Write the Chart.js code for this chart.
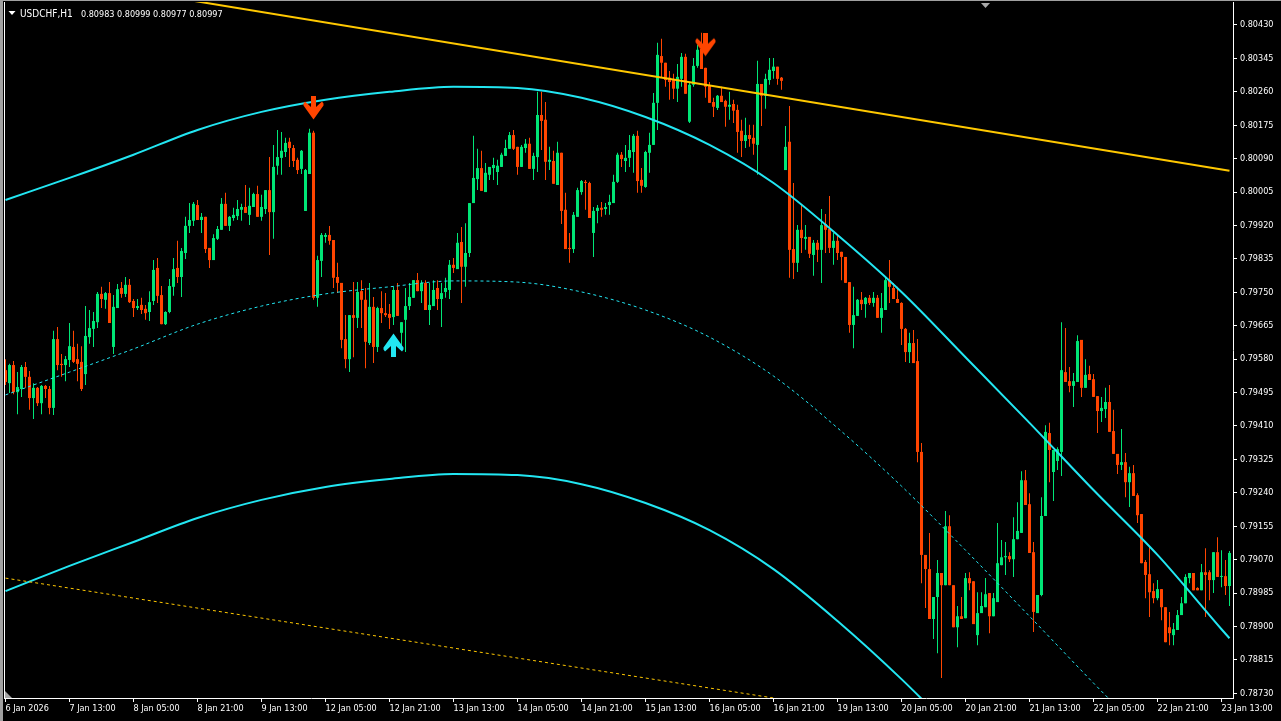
<!DOCTYPE html>
<html><head><meta charset="utf-8">
<script src="https://cdn.jsdelivr.net/npm/chart.js@4.4.1/dist/chart.umd.min.js"></script>
<style>html,body{margin:0;padding:0;background:#000;overflow:hidden}canvas{display:block}</style>
</head><body>
<canvas id="c" width="1281" height="721" style="width:1281px;height:721px"></canvas>
<script>
// ---------- DATA (USDCHF H1, bar index 0 = 6 Jan 2026 21:00) ----------
const titleSymbol = 'USDCHF,H1';
const titleOHLC = '0.80983 0.80999 0.80977 0.80997';

const opens = [
0.79552,0.79519,0.79565,0.79496,0.79504,0.79560,0.79535,0.79481,0.79507,0.79468,
0.79512,0.79504,0.79456,0.79631,0.79568,0.79565,0.79578,0.79611,0.79580,0.79573,
0.79542,0.79636,0.79657,0.79674,0.79746,0.79731,0.79748,0.79611,0.79710,0.79761,
0.79746,0.79769,0.79728,0.79710,0.79718,0.79708,0.79700,0.79728,0.79812,0.79743,
0.79669,0.79700,0.79764,0.79812,0.79789,0.79850,0.79919,0.79932,0.79972,0.79934,
0.79942,0.79863,0.79832,0.79886,0.79909,0.79975,0.79919,0.79939,0.79944,0.79960,
0.79967,0.79947,0.79967,0.80000,0.79942,0.79962,0.80010,0.79954,0.80072,0.80092,
0.80107,0.80133,0.80117,0.80087,0.80064,0.79957,0.80051,0.80156,0.79736,0.79830,
0.79891,0.79896,0.79883,0.79789,0.79774,0.79631,0.79580,0.79692,0.79685,0.79753,
0.79731,0.79621,0.79713,0.79611,0.79710,0.79697,0.79695,0.79687,0.79756,0.79647,
0.79680,0.79715,0.79736,0.79781,0.79753,0.79774,0.79705,0.79715,0.79761,0.79733,
0.79751,0.79756,0.79820,0.79809,0.79878,0.79815,0.79850,0.79977,0.80038,0.80066,
0.80005,0.80049,0.80066,0.80056,0.80069,0.80097,0.80115,0.80150,0.80120,0.80069,
0.80117,0.80128,0.80064,0.80094,0.80201,0.80189,0.80082,0.80084,0.80023,0.80105,
0.79960,0.79863,0.79860,0.79942,0.80005,0.80031,0.80028,0.79901,0.79957,0.79965,
0.79962,0.79972,0.79977,0.80031,0.80100,0.80084,0.80092,0.80107,0.80148,0.80036,
0.80018,0.80105,0.80125,0.80232,0.80351,0.80334,0.80296,0.80290,0.80268,0.80293,
0.80349,0.80184,0.80278,0.80326,0.80369,0.80321,0.80275,0.80234,0.80219,0.80250,
0.80237,0.80222,0.80229,0.80214,0.80161,0.80135,0.80150,0.80143,0.80125,0.80280,
0.80250,0.80290,0.80313,0.80324,0.80296,0.80061,0.80133,0.79860,0.79825,0.79909,
0.79886,0.79891,0.79845,0.79876,0.79858,0.79924,0.79911,0.79863,0.79881,0.79853,
0.79840,0.79776,0.79667,0.79690,0.79731,0.79720,0.79736,0.79723,0.79736,0.79685,
0.79705,0.79781,0.79761,0.79733,0.79723,0.79657,0.79598,0.79621,0.79575,0.79344,
0.79082,0.79046,0.78919,0.78975,0.79036,0.79005,0.79155,0.79005,0.78898,0.78926,
0.78921,0.79023,0.79015,0.78878,0.78934,0.78949,0.78985,0.78926,0.78962,0.79056,
0.79076,0.79079,0.79071,0.79122,0.79138,0.79272,0.79211,0.79089,0.78934,0.78980,
0.79181,0.79392,0.79293,0.79321,0.79344,0.79547,0.79524,0.79512,0.79522,0.79629,
0.79507,0.79542,0.79529,0.79486,0.79448,0.79453,0.79471,0.79397,0.79339,0.79311,
0.79318,0.79267,0.79290,0.79234,0.79186,0.79064,0.79033,0.78990,0.78972,0.78995,
0.78949,0.78898,0.78878,0.78891,0.78929,0.78959,0.79023,0.79036,0.78998,0.78992,
0.79038,0.79038,0.79018,0.79089,0.79026,0.79028,0.79003];

const highs = [
0.79580,0.79568,0.79575,0.79547,0.79565,0.79573,0.79550,0.79519,0.79509,0.79514,
0.79514,0.79512,0.79652,0.79662,0.79593,0.79588,0.79672,0.79652,0.79619,0.79613,
0.79715,0.79705,0.79700,0.79751,0.79764,0.79751,0.79776,0.79743,0.79771,0.79776,
0.79789,0.79784,0.79733,0.79733,0.79736,0.79718,0.79753,0.79832,0.79837,0.79766,
0.79702,0.79784,0.79837,0.79881,0.79863,0.79942,0.79977,0.79980,0.79985,0.79952,
0.79942,0.79863,0.79898,0.79919,0.79990,0.80003,0.79944,0.79965,0.79985,0.79975,
0.80023,0.80016,0.80003,0.80021,0.79998,0.80010,0.80094,0.80125,0.80163,0.80158,
0.80143,0.80143,0.80125,0.80092,0.80112,0.80064,0.80166,0.80161,0.79843,0.79901,
0.79901,0.79919,0.79883,0.79825,0.79774,0.79692,0.79692,0.79776,0.79776,0.79781,
0.79761,0.79774,0.79738,0.79713,0.79753,0.79748,0.79720,0.79764,0.79774,0.79674,
0.79761,0.79774,0.79781,0.79799,0.79781,0.79781,0.79774,0.79781,0.79781,0.79774,
0.79787,0.79832,0.79837,0.79901,0.79916,0.79926,0.79977,0.80148,0.80115,0.80110,
0.80079,0.80069,0.80092,0.80087,0.80105,0.80138,0.80158,0.80163,0.80120,0.80125,
0.80140,0.80143,0.80105,0.80260,0.80260,0.80234,0.80120,0.80110,0.80133,0.80105,
0.80003,0.79901,0.79954,0.80016,0.80036,0.80036,0.80031,0.79967,0.79972,0.79980,
0.79977,0.79998,0.80049,0.80105,0.80107,0.80125,0.80150,0.80153,0.80161,0.80066,
0.80110,0.80156,0.80257,0.80385,0.80395,0.80334,0.80313,0.80306,0.80331,0.80359,
0.80357,0.80283,0.80346,0.80380,0.80410,0.80321,0.80285,0.80245,0.80252,0.80273,
0.80240,0.80260,0.80240,0.80227,0.80189,0.80194,0.80176,0.80176,0.80339,0.80280,
0.80306,0.80346,0.80346,0.80324,0.80298,0.80173,0.80224,0.80028,0.79921,0.79972,
0.79921,0.79891,0.79883,0.79883,0.79962,0.79949,0.79995,0.79901,0.79896,0.79853,
0.79840,0.79776,0.79764,0.79733,0.79751,0.79738,0.79743,0.79751,0.79743,0.79748,
0.79789,0.79832,0.79774,0.79764,0.79725,0.79659,0.79647,0.79654,0.79631,0.79367,
0.79082,0.79138,0.78975,0.79069,0.79036,0.79194,0.79183,0.79005,0.78952,0.78975,
0.79036,0.79038,0.79015,0.78987,0.78987,0.79023,0.78985,0.78985,0.79163,0.79120,
0.79115,0.79089,0.79178,0.79216,0.79295,0.79298,0.79239,0.79115,0.78980,0.79229,
0.79412,0.79418,0.79349,0.79356,0.79674,0.79659,0.79560,0.79545,0.79641,0.79629,
0.79580,0.79563,0.79542,0.79486,0.79484,0.79507,0.79514,0.79451,0.79339,0.79402,
0.79341,0.79306,0.79311,0.79239,0.79186,0.79069,0.79102,0.79010,0.79018,0.78995,
0.78949,0.78937,0.78909,0.78942,0.78975,0.79033,0.79036,0.79036,0.79000,0.79059,
0.79099,0.79043,0.79089,0.79127,0.79094,0.79069,0.79092];

const lows = [
0.79514,0.79494,0.79491,0.79440,0.79484,0.79507,0.79451,0.79428,0.79461,0.79440,
0.79481,0.79440,0.79438,0.79552,0.79535,0.79524,0.79560,0.79570,0.79524,0.79499,
0.79514,0.79619,0.79611,0.79659,0.79710,0.79708,0.79672,0.79593,0.79710,0.79736,
0.79738,0.79723,0.79687,0.79705,0.79695,0.79680,0.79677,0.79718,0.79723,0.79669,
0.79667,0.79697,0.79741,0.79774,0.79738,0.79835,0.79901,0.79919,0.79934,0.79901,
0.79850,0.79812,0.79832,0.79883,0.79909,0.79919,0.79906,0.79932,0.79934,0.79932,
0.79952,0.79921,0.79967,0.79942,0.79932,0.79949,0.79845,0.79886,0.80049,0.80049,
0.80094,0.80069,0.80069,0.80051,0.80051,0.79957,0.80051,0.79731,0.79713,0.79789,
0.79876,0.79871,0.79761,0.79748,0.79608,0.79557,0.79547,0.79585,0.79659,0.79659,
0.79557,0.79616,0.79570,0.79598,0.79672,0.79687,0.79657,0.79667,0.79690,0.79603,
0.79598,0.79705,0.79736,0.79753,0.79723,0.79705,0.79667,0.79715,0.79705,0.79662,
0.79736,0.79733,0.79799,0.79809,0.79723,0.79764,0.79840,0.79977,0.80010,0.80008,
0.80005,0.80036,0.80036,0.80023,0.80069,0.80097,0.80115,0.80112,0.80049,0.80069,
0.80105,0.80064,0.80036,0.80056,0.80112,0.80036,0.80061,0.80026,0.80023,0.79924,
0.79860,0.79825,0.79850,0.79942,0.79998,0.79960,0.79939,0.79840,0.79926,0.79942,
0.79947,0.79947,0.79977,0.80028,0.80069,0.80056,0.80069,0.80054,0.80003,0.80003,
0.80016,0.80054,0.80125,0.80163,0.80296,0.80273,0.80240,0.80242,0.80234,0.80273,
0.80255,0.80181,0.80273,0.80321,0.80318,0.80245,0.80232,0.80196,0.80214,0.80234,
0.80171,0.80189,0.80181,0.80105,0.80094,0.80117,0.80120,0.80100,0.80049,0.80173,
0.80217,0.80278,0.80293,0.80278,0.80265,0.80061,0.79787,0.79784,0.79802,0.79850,
0.79858,0.79837,0.79792,0.79827,0.79774,0.79850,0.79850,0.79820,0.79832,0.79781,
0.79774,0.79647,0.79608,0.79690,0.79705,0.79685,0.79718,0.79713,0.79685,0.79647,
0.79705,0.79723,0.79733,0.79723,0.79616,0.79573,0.79570,0.79570,0.79318,0.79010,
0.78947,0.78919,0.78868,0.78832,0.78769,0.79005,0.79005,0.78898,0.78847,0.78919,
0.78921,0.78992,0.78906,0.78852,0.78934,0.78949,0.78883,0.78926,0.78962,0.79056,
0.79031,0.79064,0.79026,0.79122,0.79138,0.79209,0.79087,0.78886,0.78934,0.78977,
0.79181,0.79267,0.79219,0.79298,0.79283,0.79522,0.79496,0.79458,0.79522,0.79484,
0.79507,0.79527,0.79484,0.79392,0.79420,0.79430,0.79395,0.79339,0.79288,0.79298,
0.79229,0.79204,0.79232,0.79163,0.79061,0.78972,0.78924,0.78959,0.78967,0.78916,
0.78860,0.78852,0.78852,0.78891,0.78929,0.78959,0.79010,0.78992,0.78992,0.78992,
0.78924,0.78967,0.78985,0.79026,0.79000,0.78980,0.78952];

const closes = [
0.79522,0.79565,0.79496,0.79509,0.79560,0.79535,0.79481,0.79507,0.79468,0.79512,
0.79504,0.79456,0.79631,0.79565,0.79565,0.79580,0.79613,0.79573,0.79568,0.79504,
0.79639,0.79659,0.79677,0.79746,0.79733,0.79748,0.79672,0.79713,0.79758,0.79746,
0.79769,0.79725,0.79710,0.79715,0.79705,0.79697,0.79725,0.79807,0.79741,0.79669,
0.79700,0.79766,0.79809,0.79789,0.79855,0.79919,0.79934,0.79975,0.79934,0.79942,
0.79860,0.79832,0.79888,0.79911,0.79975,0.79919,0.79942,0.79947,0.79962,0.79967,
0.79952,0.79970,0.80000,0.79942,0.79967,0.80010,0.79954,0.80069,0.80094,0.80110,
0.80130,0.80117,0.80084,0.80061,0.80110,0.80061,0.80156,0.79736,0.79832,0.79896,
0.79896,0.79881,0.79787,0.79774,0.79629,0.79580,0.79692,0.79685,0.79751,0.79731,
0.79624,0.79713,0.79611,0.79710,0.79697,0.79692,0.79685,0.79756,0.79690,0.79674,
0.79715,0.79738,0.79781,0.79753,0.79774,0.79705,0.79718,0.79756,0.79733,0.79748,
0.79761,0.79820,0.79812,0.79876,0.79815,0.79850,0.79977,0.80041,0.80066,0.80008,
0.80054,0.80069,0.80074,0.80072,0.80100,0.80117,0.80150,0.80115,0.80069,0.80120,
0.80128,0.80064,0.80097,0.80201,0.80186,0.80082,0.80087,0.80026,0.80105,0.79957,
0.79860,0.79860,0.79947,0.80010,0.80033,0.80028,0.79939,0.79957,0.79965,0.79960,
0.79967,0.79980,0.80031,0.80100,0.80089,0.80092,0.80112,0.80148,0.80033,0.80021,
0.80107,0.80125,0.80232,0.80354,0.80334,0.80290,0.80285,0.80268,0.80298,0.80349,
0.80255,0.80278,0.80326,0.80367,0.80318,0.80273,0.80232,0.80222,0.80250,0.80234,
0.80222,0.80227,0.80212,0.80158,0.80135,0.80150,0.80140,0.80128,0.80280,0.80250,
0.80293,0.80316,0.80324,0.80293,0.80288,0.80120,0.79858,0.79825,0.79909,0.79888,
0.79891,0.79848,0.79876,0.79858,0.79921,0.79909,0.79863,0.79881,0.79850,0.79840,
0.79774,0.79667,0.79692,0.79731,0.79720,0.79736,0.79723,0.79736,0.79685,0.79710,
0.79781,0.79764,0.79733,0.79723,0.79657,0.79598,0.79621,0.79570,0.79344,0.79082,
0.79046,0.78919,0.78975,0.79036,0.79005,0.79155,0.79005,0.78898,0.78926,0.78919,
0.79023,0.79010,0.78906,0.78934,0.78952,0.78982,0.78926,0.78972,0.79061,0.79076,
0.79079,0.79071,0.79122,0.79143,0.79272,0.79209,0.79087,0.78937,0.78980,0.79181,
0.79395,0.79349,0.79349,0.79351,0.79552,0.79522,0.79512,0.79524,0.79626,0.79507,
0.79540,0.79527,0.79484,0.79448,0.79456,0.79471,0.79395,0.79339,0.79311,0.79318,
0.79267,0.79290,0.79232,0.79183,0.79061,0.79031,0.78987,0.78972,0.78995,0.78949,
0.78860,0.78883,0.78893,0.78929,0.78959,0.79026,0.79036,0.78992,0.78992,0.79038,
0.79031,0.79018,0.79089,0.79026,0.79028,0.79003,0.79087];

// time-axis labels (every 16 bars)
const xTickIdx = [0,16,32,48,64,80,96,112,128,144,160,176,192,208,224,240,256,272,288,304];
const xTickLabels = ['6 Jan 2026','7 Jan 13:00','8 Jan 05:00','8 Jan 21:00','9 Jan 13:00',
  '12 Jan 05:00','12 Jan 21:00','13 Jan 13:00','14 Jan 05:00','14 Jan 21:00',
  '15 Jan 13:00','16 Jan 05:00','16 Jan 21:00','19 Jan 13:00','20 Jan 05:00',
  '20 Jan 21:00','21 Jan 13:00','22 Jan 05:00','22 Jan 21:00','23 Jan 13:00'];
// price-axis labels
const yTickLabels = ['0.80430','0.80345','0.80260','0.80175','0.80090','0.80005','0.79920',
  '0.79835','0.79750','0.79665','0.79580','0.79495','0.79410','0.79325','0.79240',
  '0.79155','0.79070','0.78985','0.78900','0.78815','0.78730'];

// indicator lines
const goldIdx = [0, 306];
const goldUpper = [0.80570, 0.80059];
const goldLower = [0.79023, 0.78537];
const bandIdx = [0,16,32,48,64,80,96,112,128,144,160,176,192,208,224,240,256,272,288,304,306];
const cyanUpper = [0.79985,0.80041,0.80100,0.80163,0.80209,0.80240,0.80260,0.80273,0.80270,0.80245,
  0.80196,0.80125,0.80028,0.79896,0.79751,0.79585,0.79418,0.79247,0.79082,0.78893,0.78870];
const cyanMid = [0.79489,0.79547,0.79606,0.79669,0.79715,0.79746,0.79764,0.79779,0.79776,0.79751,
  0.79705,0.79636,0.79537,0.79405,0.79257,0.79094,0.78926,0.78756,0.78590,0.78402,0.78382];
const cyanLower = [0.78990,0.79054,0.79115,0.79176,0.79222,0.79255,0.79275,0.79288,0.79285,0.79262,
  0.79214,0.79145,0.79046,0.78914,0.78766,0.78603,0.78435];

// signal arrows
const sellIdx = [77, 175];
const sellPrice = [0.80219, 0.80380];
const buyIdx = [97];
const buyPrice = [0.79616];

// ---------- RENDER ----------
const FONT = '"DejaVu Sans Condensed", "DejaVu Sans", sans-serif';
const GREEN = '#00e676', RED = '#ff4500', CYAN = '#22e6f2', GOLD = '#ffc800';

function makeArrow(color, down) {
  const c = document.createElement('canvas');
  c.width = 21; c.height = 24;
  const g = c.getContext('2d');
  const cx = 10.5;
  let pts = [[cx-2.5,0],[cx+2.5,0],[cx+2.5,11],[cx+8.5,5.5],[cx+10,7.5],[cx+10,9.5],[cx,23.5],
             [cx-10,9.5],[cx-10,7.5],[cx-8.5,5.5],[cx-2.5,11]];
  if (!down) pts = pts.map(p => [p[0], 24 - p[1]]);
  g.beginPath();
  pts.forEach((p, k) => k ? g.lineTo(p[0], p[1]) : g.moveTo(p[0], p[1]));
  g.closePath();
  g.fillStyle = color; g.fill();
  return c;
}
const arrowDown = makeArrow(RED, true);
const arrowUp = makeArrow(CYAN, false);

const pts = (idx, vals) => vals.map((v, k) => ({x: idx[k], y: v}));
const bodyData = opens.map((o, i) => ({x: i, y: [o, closes[i]]}));
const wickData = lows.map((l, i) => ({x: i, y: [l, highs[i]]}));
const candleColors = opens.map((o, i) => closes[i] >= o ? GREEN : RED);

const frame = {
  id: 'frame',
  beforeDraw(chart) {
    const g = chart.ctx;
    g.save(); g.fillStyle = '#000'; g.fillRect(0, 0, chart.width, chart.height); g.restore();
  },
  afterDraw(chart) {
    const g = chart.ctx, a = chart.chartArea;
    g.save();
    // window edges
    g.fillStyle = '#a0a0a0';
    g.fillRect(0, 0, 3, chart.height);
    g.fillRect(0, 0, chart.width, 1);
    // left frame line
    g.fillStyle = '#ffffff';
    g.fillRect(Math.round(a.left), Math.round(a.top), 1, Math.round(a.bottom - a.top) + 1);
    // scroll markers
    g.fillStyle = '#a8a8a8';
    g.beginPath(); g.moveTo(981, 3); g.lineTo(990, 3); g.lineTo(985.5, 8); g.closePath(); g.fill();
    g.beginPath(); g.moveTo(5, 691); g.lineTo(5, 698); g.lineTo(12, 698); g.closePath(); g.fill();
    // title
    g.fillStyle = '#ffffff';
    g.beginPath(); g.moveTo(8.5, 11); g.lineTo(15.5, 11); g.lineTo(12, 15); g.closePath(); g.fill();
    g.textBaseline = 'alphabetic'; g.textAlign = 'left';
    g.font = '10px ' + FONT;
    g.fillText(titleSymbol, 20, 17);
    g.font = '9px ' + FONT;
    g.fillText(titleOHLC, 81, 17);
    g.restore();
  }
};

Chart.defaults.font.family = FONT;
new Chart(document.getElementById('c'), {
  type: 'bar',
  data: {
    datasets: [
      {type: 'line', data: pts(sellIdx, sellPrice), showLine: false, pointStyle: arrowDown, pointRadius: 1, pointBorderWidth: 0},
      {type: 'line', data: pts(buyIdx, buyPrice), showLine: false, pointStyle: arrowUp, pointRadius: 1, pointBorderWidth: 0},
      {type: 'line', data: pts(goldIdx, goldUpper), borderColor: GOLD, borderWidth: 2, pointRadius: 0, fill: false},
      {type: 'line', data: pts(goldIdx, goldLower), borderColor: GOLD, borderWidth: 1, borderDash: [3, 3], pointRadius: 0, fill: false},
      {type: 'line', data: pts(bandIdx, cyanUpper), borderColor: CYAN, borderWidth: 2, pointRadius: 0, fill: false, cubicInterpolationMode: 'monotone'},
      {type: 'line', data: pts(bandIdx, cyanMid), borderColor: CYAN, borderWidth: 1, borderDash: [3, 3], pointRadius: 0, fill: false, cubicInterpolationMode: 'monotone'},
      {type: 'line', data: pts(bandIdx, cyanLower), borderColor: CYAN, borderWidth: 2, pointRadius: 0, fill: false, cubicInterpolationMode: 'monotone'},
      {type: 'bar', data: bodyData, backgroundColor: candleColors, barThickness: 3, grouped: false,
       minBarLength: 1, borderWidth: 0, inflateAmount: 0, borderSkipped: false},
      {type: 'bar', data: wickData, backgroundColor: candleColors, barThickness: 1, grouped: false,
       borderWidth: 0, inflateAmount: 0, borderSkipped: false}
    ]
  },
  options: {
    responsive: false, animation: false, devicePixelRatio: 1, events: [],
    layout: {autoPadding: false, padding: {left: 4, top: 2, right: 0, bottom: 0}},
    plugins: {legend: {display: false}, tooltip: {enabled: false}, title: {display: false}},
    scales: {
      x: {
        type: 'linear', min: -0.375, max: 306.875, offset: false,
        grid: {display: true, offset: false, drawOnChartArea: false, drawTicks: true, tickLength: 4, color: '#ffffff', lineWidth: 1},
        border: {display: true, color: '#ffffff', width: 1},
        afterBuildTicks: s => { s.ticks = xTickIdx.map(v => ({value: v})); },
        afterFit: s => { s.height = 23; s.paddingLeft = 0; s.paddingRight = 0; },
        ticks: {
          autoSkip: false, maxRotation: 0, minRotation: 0, align: 'start', padding: 1,
          color: '#ffffff', font: {family: FONT, size: 9},
          callback: v => { const k = xTickIdx.indexOf(v); return k >= 0 ? xTickLabels[k] : ''; }
        }
      },
      y: {
        type: 'linear', position: 'right', min: 0.7871804, max: 0.804885, beginAtZero: false,
        grid: {display: true, drawOnChartArea: false, drawTicks: true, tickLength: 4, color: '#ffffff', lineWidth: 1},
        border: {display: true, color: '#ffffff', width: 1},
        afterBuildTicks: s => { s.ticks = yTickLabels.map(t => ({value: parseFloat(t)})); },
        afterFit: s => { s.width = 48; s.paddingTop = 0; s.paddingBottom = 0; },
        ticks: {
          autoSkip: false, padding: 3, color: '#ffffff', font: {family: FONT, size: 9},
          callback: v => { const t = yTickLabels.find(s => Math.abs(parseFloat(s) - v) < 1e-7); return t || ''; }
        }
      }
    }
  },
  plugins: [frame]
});
</script>
</body></html>
